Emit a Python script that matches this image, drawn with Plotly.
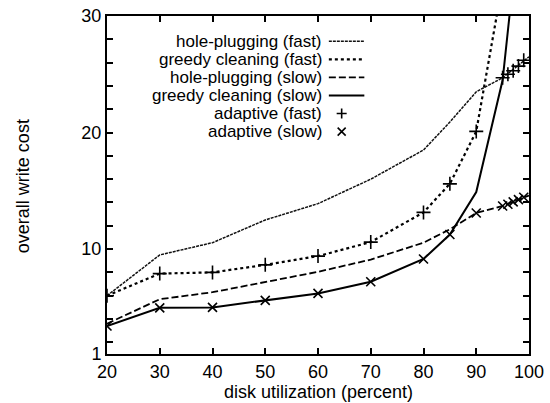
import plotly.graph_objects as go

# ---- data ----
util = [20, 30, 40, 50, 60, 70, 80, 85, 90, 95, 100]
hole_fast = [6.0, 9.5, 10.55, 12.5, 13.9, 16.0, 18.5, 20.9, 23.5, 24.7, 26.5]
hole_slow = [3.6, 5.7, 6.3, 7.2, 8.05, 9.1, 10.55, 11.7, 13.1, 13.7, 14.6]

greedy_x = [20, 30, 40, 50, 60, 70, 80, 85, 90, 95, 97]
greedy_fast = [6.0, 7.9, 8.0, 8.65, 9.4, 10.6, 13.15, 15.6, 20.1, 32.5, 38.0]
greedy_slow = [3.4, 4.96, 5.0, 5.6, 6.2, 7.2, 9.15, 11.25, 14.9, 24.5, 33.0]

adapt_x = [20, 30, 40, 50, 60, 70, 80, 85, 90, 95, 96, 97, 98, 99]
adapt_fast = [6.0, 7.9, 8.0, 8.65, 9.4, 10.6, 13.15, 15.6, 20.1, 24.7, 25.0, 25.3, 25.7, 26.2]
adapt_slow = [3.4, 4.96, 5.0, 5.6, 6.2, 7.2, 9.15, 11.25, 13.1, 13.7, 13.85, 14.05, 14.25, 14.45]

legend_names = ["hole-plugging (fast)", "greedy cleaning (fast)", "hole-plugging (slow)",
                "greedy cleaning (slow)", "adaptive (fast)", "adaptive (slow)"]

x_ticks = [20, 30, 40, 50, 60, 70, 80, 90, 100]
y_ticks = [1] + list(range(2, 31, 2))
y_labels = ["1" if v == 1 else (str(v) if v in (10, 20, 30) else "") for v in y_ticks]

FONT = "Liberation Sans, Arial, Helvetica, sans-serif"
FS = 18
LFS = 17

# ---- styles ----
styles = [
    dict(color="#111111", width=1.5, dash="3px,1px"),
    dict(color="black", width=2.2, dash="3px,3px"),
    dict(color="black", width=1.8, dash="7px,3px"),
    dict(color="black", width=2.0, dash="solid"),
]

fig = go.Figure()
fig.add_trace(go.Scatter(x=util, y=hole_fast, mode="lines", line=styles[0], showlegend=False))
fig.add_trace(go.Scatter(x=greedy_x, y=greedy_fast, mode="lines", line=styles[1], showlegend=False))
fig.add_trace(go.Scatter(x=util, y=hole_slow, mode="lines", line=styles[2], showlegend=False))
fig.add_trace(go.Scatter(x=greedy_x, y=greedy_slow, mode="lines", line=styles[3], showlegend=False))
fig.add_trace(go.Scatter(x=adapt_x, y=adapt_fast, mode="markers", showlegend=False,
                         marker=dict(symbol="cross-thin", size=10, line=dict(color="black", width=1.6))))
fig.add_trace(go.Scatter(x=adapt_x, y=adapt_slow, mode="markers", showlegend=False,
                         marker=dict(symbol="x-thin", size=9, line=dict(color="black", width=1.6))))

# plot area in pixels
L, R, T, B = 107, 535, 6, 354
W, H = R - L, B - T
def px(xp):
    return (xp - L) / W
def py(yp):
    return (B - yp) / H

# ---- manual legend (text on left, key on right) ----
rows = [32, 50.6, 69.2, 87.8, 106.4, 125]
annotations = []
shapes = []
for i, name in enumerate(legend_names):
    annotations.append(dict(x=px(327), y=py(rows[i]), xref="paper", yref="paper",
                            text=name, showarrow=False, xanchor="right", yanchor="middle",
                            font=dict(family=FONT, size=LFS, color="black")))
for i in range(4):
    shapes.append(dict(type="line", xref="paper", yref="paper",
                       x0=px(332), x1=px(368), y0=py(rows[i]), y1=py(rows[i]),
                       line=styles[i]))
# + key
shapes.append(dict(type="path", xref="paper", yref="paper", xsizemode="pixel", ysizemode="pixel",
                   xanchor=px(345), yanchor=py(rows[4]),
                   path="M -5 0 L 5 0 M 0 -5 L 0 5", line=dict(color="black", width=1.6)))
# x key
shapes.append(dict(type="path", xref="paper", yref="paper", xsizemode="pixel", ysizemode="pixel",
                   xanchor=px(345), yanchor=py(rows[5]),
                   path="M -4 -4 L 4 4 M -4 4 L 4 -4", line=dict(color="black", width=1.6)))

# axis titles
annotations.append(dict(x=px(22), y=py(181), xref="paper", yref="paper", text="overall write cost",
                        textangle=-90, showarrow=False, xanchor="center", yanchor="middle",
                        font=dict(family=FONT, size=FS, color="black")))
annotations.append(dict(x=0.5, y=py(393), xref="paper", yref="paper", text="disk utilization (percent)",
                        showarrow=False, xanchor="center", yanchor="middle",
                        font=dict(family=FONT, size=FS, color="black")))

axis_common = dict(showline=True, linecolor="black", linewidth=2, mirror="ticks",
                   ticks="inside", ticklen=6, tickwidth=1.5, tickcolor="black",
                   showgrid=False, zeroline=False, ticklabeloverflow="allow",
                   tickfont=dict(family=FONT, size=FS, color="black"))

fig.update_layout(
    width=550, height=403,
    margin=dict(l=L, r=550 - R, t=T, b=403 - B),
    paper_bgcolor="white", plot_bgcolor="white",
    xaxis=dict(range=[20, 100], tickmode="array", tickvals=x_ticks, **axis_common),
    yaxis=dict(range=[1, 30], tickmode="array", tickvals=y_ticks, ticktext=y_labels, **axis_common),
    annotations=annotations, shapes=shapes, showlegend=False,
)

fig.write_html("out.html")
